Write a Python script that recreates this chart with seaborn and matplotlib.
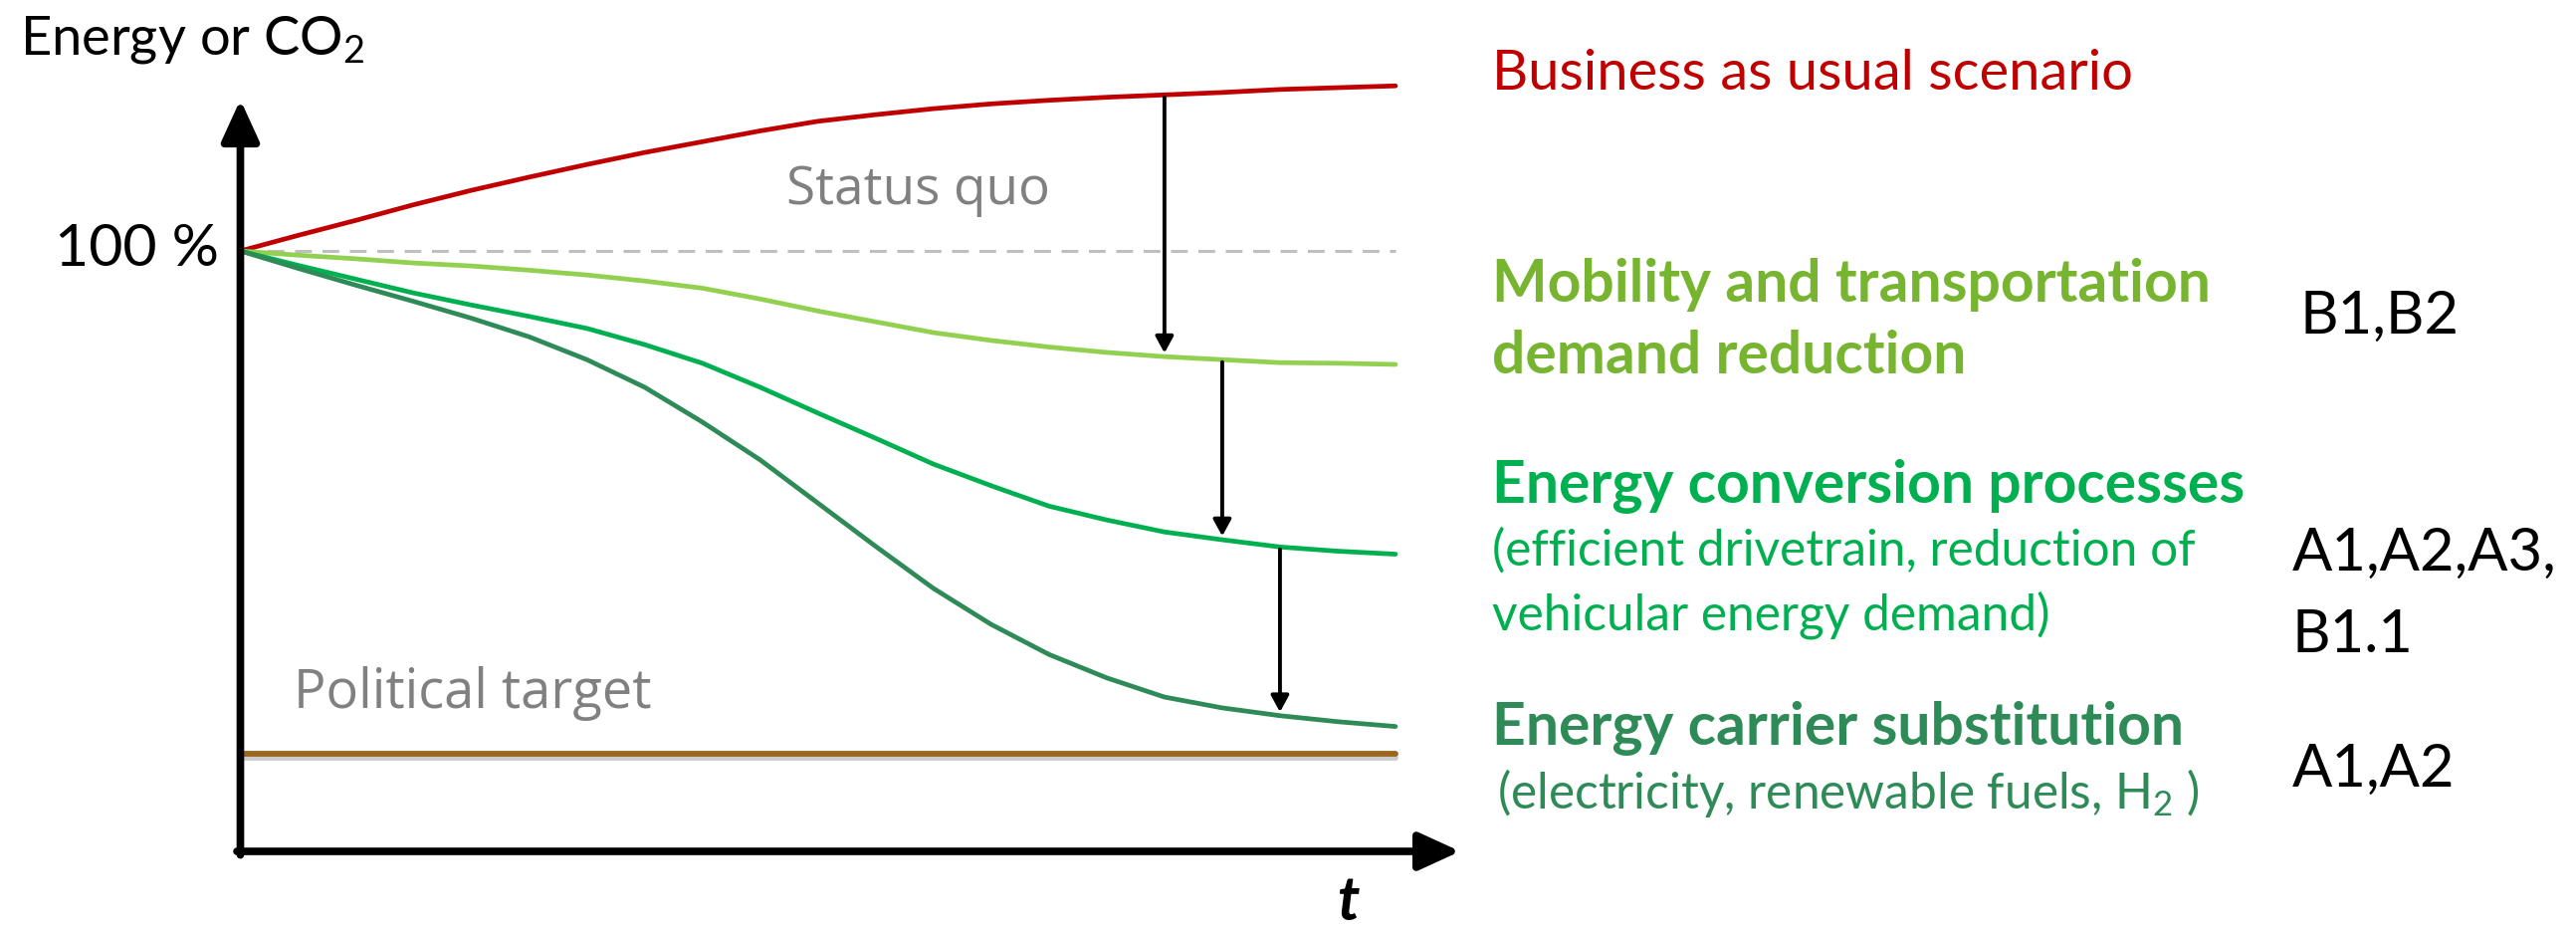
import numpy as np
import pandas as pd
import matplotlib
matplotlib.use('Agg')
import matplotlib.pyplot as plt
import matplotlib.patheffects as pe
import seaborn as sns

# --- data (t = time, 0..100; y = % of today's level) ---
t = [0, 5, 10, 15, 20, 25, 30, 35, 40, 45, 50, 55, 60, 65, 70, 75, 80, 85, 90, 95, 100]
bau = [100, 102.6, 105.1, 107.7, 110.1, 112.3, 114.4, 116.4, 118.2, 120.0, 121.6,
       122.7, 123.7, 124.5, 125.1, 125.6, 126.0, 126.4, 126.9, 127.2, 127.5]
mobility = [100, 99.3, 98.7, 98.0, 97.5, 96.8, 96.0, 95.0, 93.8, 92.0, 90.0,
            88.2, 86.4, 85.1, 84.0, 83.1, 82.4, 81.9, 81.4, 81.3, 81.1]
conversion = [100, 97.6, 95.3, 93.0, 91.0, 89.1, 87.1, 84.4, 81.3, 77.3, 73.0,
              68.8, 64.5, 60.9, 57.5, 55.2, 53.2, 51.9, 50.7, 50.0, 49.5]
substitution = [100, 97.1, 94.3, 91.6, 88.8, 85.7, 81.9, 77.3, 71.5, 65.2, 58.0,
                50.8, 43.8, 37.8, 32.8, 28.9, 25.7, 23.9, 22.6, 21.6, 20.8]
status_quo = 100
political_target = 16.25
arrow_t = [80, 85, 90]

scenarios = ['Business as usual', 'Mobility', 'Conversion', 'Substitution']
line_colors = ['#C00000', '#92D050', '#00B050', '#2E8B57']

df = pd.DataFrame({
    't': t * 4,
    'value': bau + mobility + conversion + substitution,
    'scenario': np.repeat(scenarios, len(t)),
})

sns.set_theme(style='white')
plt.rcParams['font.family'] = ['Lato', 'DejaVu Sans']
plt.rcParams['mathtext.default'] = 'regular'

W, H = 2588, 936
fig = plt.figure(figsize=(W / 100, H / 100), dpi=100)
ax = fig.add_axes([0, 0, 1, 1])
# pixel mapping: t=0 -> x 241.5, t=100 -> x 1402 ; y=0% -> 855, y=100% -> 252
ax.set_xlim(-20.81, 202.2)
ax.set_ylim(-13.43, 141.8)
ax.axis('off')

# status quo (dashed) and political target
ax.plot([0, 100], [status_quo, status_quo], color='#BFBFBF', lw=2.2, ls=(0, (5.5, 3.5)), zorder=1)
ax.plot([0, 100], [political_target, political_target], color='#9C661F', lw=4.2,
        solid_capstyle='round', zorder=2,
        path_effects=[pe.SimpleLineShadow(offset=(0, -3), shadow_color='#999999', alpha=0.5),
                      pe.Normal()])

sns.lineplot(data=df, x='t', y='value', hue='scenario', palette=line_colors,
             hue_order=scenarios, linewidth=3.4, legend=False, ax=ax, zorder=3)
for l in ax.get_lines():
    l.set_solid_capstyle('round')
    l.set_solid_joinstyle('round')

# reduction arrows between neighbouring curves
series = [bau, mobility, conversion, substitution]
for i, xa in enumerate(arrow_t):
    y0 = np.interp(xa, t, series[i])
    y1 = np.interp(xa, t, series[i + 1])
    ax.annotate('', xy=(xa, y1 + 0.6), xytext=(xa, y0 - 0.4),
                arrowprops=dict(arrowstyle='-|>,head_length=0.55,head_width=0.3',
                                lw=2.8, color='black', mutation_scale=18,
                                shrinkA=0, shrinkB=0), zorder=4)

# coordinate axes with arrow heads
ax.annotate('', xy=(0, 125.2), xytext=(0, -0.6),
            arrowprops=dict(arrowstyle='-|>,head_length=0.7,head_width=0.32', lw=5.5,
                            color='black', mutation_scale=36, shrinkA=0, shrinkB=0), zorder=5)
ax.annotate('', xy=(105.6, 0), xytext=(-0.3, 0),
            arrowprops=dict(arrowstyle='-|>,head_length=0.7,head_width=0.32', lw=5.5,
                            color='black', mutation_scale=36, shrinkA=0, shrinkB=0), zorder=5)

renderer = fig.canvas.get_renderer()


def label(txt, x, y, width=None, size=30, **kw):
    # x, y in reference pixels (left, baseline); width = target text width in pixels
    tx = fig.text(x / W, 1 - y / H, txt, fontsize=size, ha='left', va='baseline', **kw)
    if width:
        w = tx.get_window_extent(renderer).width
        tx.set_fontsize(size * width / w)
    return tx


gray = '#808080'
label('Energy or CO$_2$', 20, 55, width=347, color='black')
label('100 %', 55, 267, width=165, color='black')
label('Status quo', 790, 205, width=265, color=gray, family=['Open Sans', 'DejaVu Sans'])
label('Political target', 295, 711, width=360, color=gray, family=['Open Sans', 'DejaVu Sans'])
label('t', 1343, 924, size=44, color='black', weight='bold', style='italic')

label('Business as usual scenario', 1499, 90, width=644, color='#C00000')

head = label('Mobility and transportation', 1499, 303, width=720, color='#77B530', weight='bold')
hs = head.get_fontsize()
label('demand reduction', 1499, 375, size=hs, color='#77B530', weight='bold')
label('Energy conversion processes', 1499, 505, size=hs, color='#00B050', weight='bold')
label('Energy carrier substitution', 1499, 748, size=hs, color='#2E8B57', weight='bold')

sub = label('(efficient drivetrain, reduction of', 1499, 568, width=706, color='#00B050')
ss = sub.get_fontsize()
label('vehicular energy demand)', 1499, 633, size=ss, color='#00B050')
label('(electricity, renewable fuels, H$_2$ )', 1504, 812, size=ss, color='#2E8B57')

code = label('A1,A2', 2303, 790, width=163, color='black')
cs = code.get_fontsize()
label('B1,B2', 2310, 335, size=cs, color='black')
label('A1,A2,A3,', 2303, 573, size=cs, color='black')
label('B1.1', 2303, 655, size=cs, color='black')

fig.savefig('out.png', dpi=100, facecolor='white')
